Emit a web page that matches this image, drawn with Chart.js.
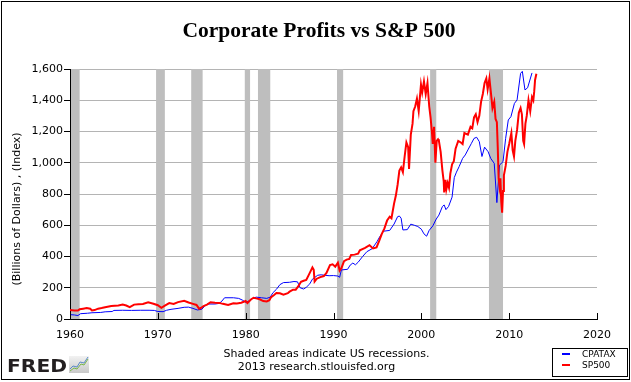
<!DOCTYPE html>
<html><head><meta charset="utf-8">
<script src="https://cdn.jsdelivr.net/npm/chart.js@4/dist/chart.umd.min.js"></script>
<style>html,body{margin:0;padding:0;background:#fff}#wrap{position:relative;width:631px;height:382px}canvas{display:block}</style>
</head><body><div id="wrap"><canvas id="c" width="631" height="382"></canvas></div>
<script>
const chartTitle = 'Corporate Profits vs S&P 500';
const yAxisTitle = '(Billions of Dollars) , (Index)';
const footerLines = ['Shaded areas indicate US recessions.', '2013 research.stlouisfed.org'];
const seriesNames = ['CPATAX', 'SP500'];
const seriesColors = ['#0000ff', '#ff0000'];
const xTickValues = [1960, 1970, 1980, 1990, 2000, 2010, 2020];
const yTickValues = [0, 200, 400, 600, 800, 1000, 1200, 1400, 1600];

const recessionStarts = [1960.0, 1969.8, 1973.8, 1979.9, 1981.4, 1990.4, 2001.0, 2007.7];
const recessionEnds   = [1961.1, 1970.8, 1975.1, 1980.5, 1982.8, 1991.1, 2001.7, 2009.3];

const cpataxDates = [1960.0,1960.5,1960.9,1961.2,1962.0,1962.5,1963.5,1964.0,1964.8,1965.0,1966.0,1967.0,1968.0,1969.0,1969.6,1970.0,1970.6,1971.0,1971.5,1972.3,1973.0,1973.5,1974.0,1974.5,1975.0,1975.3,1975.6,1976.5,1977.0,1977.3,1977.6,1978.6,1979.2,1979.6,1980.0,1980.5,1980.8,1981.2,1981.8,1982.4,1982.8,1983.1,1983.5,1983.9,1984.3,1985.0,1985.5,1985.9,1986.2,1986.6,1986.9,1987.3,1987.6,1988.2,1988.6,1989.0,1989.5,1990.0,1990.5,1990.7,1990.9,1991.6,1991.9,1992.2,1992.5,1992.8,1993.3,1993.8,1994.4,1994.95,1995.3,1995.7,1996.4,1996.9,1997.3,1997.5,1997.7,1997.9,1998.4,1998.8,1999.2,1999.6,2000.0,2000.3,2000.6,2000.9,2001.3,2001.7,2002.0,2002.4,2002.6,2002.8,2003.1,2003.5,2003.75,2004.0,2004.3,2004.7,2005.0,2005.3,2005.7,2006.0,2006.3,2006.6,2006.9,2007.2,2007.6,2007.9,2008.3,2008.6,2008.9,2009.3,2009.6,2009.9,2010.2,2010.6,2010.9,2011.3,2011.5,2011.8,2012.1,2012.6];
const cpataxValues = [28,26,22,34,37,40,42,46,48,55,56,55,56,56,55,48,47,56,62,68,75,76,68,58,62,80,96,96,100,115,136,136,132,122,107,118,132,140,136,132,140,168,190,220,233,235,240,238,200,192,203,225,255,280,283,280,277,278,275,267,314,318,345,358,347,363,399,431,450,495,530,562,567,608,655,659,645,570,572,607,600,592,575,545,530,568,595,640,665,720,730,700,720,780,905,940,975,1028,1050,1082,1124,1156,1163,1135,1040,1100,1071,1028,996,745,985,1007,1156,1274,1295,1380,1402,1572,1585,1466,1480,1575];

const sp500Dates = [1960.0,1960.5,1960.9,1961.1,1961.5,1961.9,1962.3,1962.5,1962.8,1963.2,1963.6,1964.0,1964.7,1965.5,1966.0,1966.4,1966.8,1967.3,1967.8,1968.3,1968.9,1969.5,1970.0,1970.4,1970.8,1971.3,1971.8,1972.3,1973.0,1973.5,1974.0,1974.4,1974.7,1974.9,1975.2,1975.6,1976.0,1976.5,1977.0,1977.4,1978.0,1978.6,1979.0,1979.5,1980.0,1980.2,1980.6,1980.9,1981.2,1981.6,1982.0,1982.4,1982.7,1982.9,1983.2,1983.5,1983.9,1984.3,1984.8,1985.0,1985.4,1985.7,1986.0,1986.3,1986.6,1986.9,1987.3,1987.6,1987.75,1987.85,1988.1,1988.5,1988.9,1989.2,1989.6,1989.9,1990.2,1990.5,1990.7,1990.9,1991.2,1991.5,1991.8,1992.0,1992.4,1992.8,1993.0,1993.6,1994.1,1994.5,1994.9,1995.2,1995.5,1995.8,1996.1,1996.4,1996.6,1996.9,1997.1,1997.3,1997.5,1997.7,1997.9,1998.1,1998.3,1998.5,1998.6,1998.8,1999.0,1999.1,1999.3,1999.5,1999.7,1999.96,2000.1,2000.3,2000.5,2000.7,2000.9,2001.05,2001.2,2001.3,2001.45,2001.6,2001.75,2001.9,2002.0,2002.2,2002.4,2002.55,2002.6,2002.75,2002.85,2003.0,2003.15,2003.3,2003.5,2003.7,2003.9,2004.2,2004.5,2004.7,2004.9,2005.3,2005.6,2005.8,2006.0,2006.2,2006.4,2006.6,2006.8,2007.0,2007.2,2007.4,2007.55,2007.75,2007.9,2008.1,2008.3,2008.45,2008.6,2008.7,2008.8,2008.9,2009.0,2009.1,2009.2,2009.3,2009.4,2009.6,2009.8,2010.0,2010.25,2010.4,2010.55,2010.7,2010.9,2011.1,2011.3,2011.45,2011.6,2011.7,2011.85,2012.0,2012.2,2012.4,2012.6,2012.75,2012.85,2012.95,2013.1];
const sp500Values = [58,55,54,62,66,70,66,55,57,66,70,75,83,87,92,86,76,92,94,96,107,98,88,72,86,102,96,108,117,106,97,90,66,70,83,92,107,104,103,97,90,101,100,104,115,102,125,136,132,126,115,112,120,140,152,166,165,155,165,175,188,188,210,238,245,250,295,330,315,240,258,268,275,295,345,350,335,360,310,325,370,380,385,410,412,418,440,455,472,452,458,500,545,580,630,655,645,740,790,860,950,970,940,1040,1130,1100,960,1180,1250,1330,1360,1410,1330,1500,1450,1520,1440,1510,1360,1290,1200,1120,1230,1000,1140,1150,1140,1070,950,880,810,890,830,870,840,930,990,1010,1090,1140,1130,1120,1190,1180,1230,1220,1290,1310,1260,1300,1390,1440,1510,1540,1470,1540,1460,1350,1390,1280,1260,1100,900,850,900,750,680,820,920,980,1070,1120,1190,1080,1040,1140,1210,1320,1350,1310,1140,1120,1250,1300,1400,1330,1420,1400,1455,1530,1570];

const toPoints = (xs, ys) => xs.map((x, i) => ({ x: x, y: ys[i] }));
const SANS = '"DejaVu Sans", Verdana, sans-serif';

const recessionPlugin = {
  id: 'recessions',
  beforeDatasetsDraw(chart) {
    const { ctx, chartArea: a, scales: { x } } = chart;
    ctx.save();
    ctx.fillStyle = '#bebebe';
    for (let i = 0; i < recessionStarts.length; i++) {
      const x1 = Math.max(x.getPixelForValue(recessionStarts[i]), a.left + 1);
      const x2 = x.getPixelForValue(recessionEnds[i]);
      ctx.fillRect(x1, a.top, x2 - x1, a.bottom - a.top);
    }
    ctx.restore();
  }
};

const decorPlugin = {
  id: 'decor',
  afterDraw(chart) {
    const { ctx, chartArea: a, scales: { x } } = chart;
    ctx.save();
    ctx.strokeStyle = '#000'; ctx.lineWidth = 1;
    xTickValues.forEach(v => {
      const px = Math.round(x.getPixelForValue(v)) + 0.5;
      ctx.beginPath(); ctx.moveTo(px, a.bottom); ctx.lineTo(px, a.bottom - 6); ctx.stroke();
    });
    ctx.fillStyle = '#000';
    ctx.font = 'bold 21.5px "Liberation Serif", "Times New Roman", serif';
    ctx.textAlign = 'center'; ctx.textBaseline = 'alphabetic';
    ctx.fillText(chartTitle, 319, 37);
    ctx.save();
    ctx.translate(17.5, 209); ctx.rotate(-Math.PI / 2);
    ctx.font = '11px ' + SANS; ctx.textBaseline = 'middle';
    ctx.fillText(yAxisTitle, 0, 0);
    ctx.restore();
    ctx.font = '11px ' + SANS; ctx.textBaseline = 'middle'; ctx.textAlign = 'center';
    ctx.fillText(footerLines[0], 326.5, 354);
    ctx.fillText(footerLines[1], 316.5, 367);
    ctx.strokeRect(552.5, 348.5, 75, 28);
    ctx.fillStyle = seriesColors[0]; ctx.fillRect(562, 353, 8, 2);
    ctx.fillStyle = seriesColors[1]; ctx.fillRect(562, 364, 8, 2);
    ctx.fillStyle = '#000'; ctx.font = '9px ' + SANS; ctx.textAlign = 'left';
    ctx.fillText(seriesNames[0], 582, 354.5);
    ctx.fillText(seriesNames[1], 582, 365.5);
    ctx.save();
    ctx.font = 'bold 18px ' + SANS; ctx.textBaseline = 'alphabetic';
    const w = ctx.measureText('FRED').width;
    ctx.translate(7, 372); ctx.scale(60 / w, 1);
    ctx.fillStyle = '#231f20';
    ctx.fillText('FRED', 0, 0);
    ctx.restore();
    const g = ctx.createLinearGradient(69, 356, 69, 373);
    g.addColorStop(0, '#f2f2f2'); g.addColorStop(1, '#c8c8c8');
    ctx.fillStyle = g; ctx.fillRect(69, 356, 20, 17);
    ctx.lineWidth = 1;
    ctx.strokeStyle = '#7ab648';
    ctx.beginPath(); ctx.moveTo(70, 371); ctx.lineTo(74, 368); ctx.lineTo(77, 369); ctx.lineTo(81, 364); ctx.lineTo(84, 365); ctx.lineTo(88, 359); ctx.stroke();
    ctx.strokeStyle = '#5b8ac6';
    ctx.beginPath(); ctx.moveTo(70, 369); ctx.lineTo(73, 366); ctx.lineTo(77, 367); ctx.lineTo(80, 362); ctx.lineTo(84, 363); ctx.lineTo(88, 357); ctx.stroke();
    ctx.strokeStyle = '#000'; ctx.lineWidth = 1;
    ctx.strokeRect(1.5, 1.5, 628, 378);
    ctx.restore();
  }
};

new Chart(document.getElementById('c'), {
  type: 'line',
  data: {
    datasets: [
      { label: seriesNames[1], data: toPoints(sp500Dates, sp500Values), borderColor: seriesColors[1], backgroundColor: seriesColors[1], borderWidth: 2, pointRadius: 0, tension: 0, fill: false, order: 0 },
      { label: seriesNames[0], data: toPoints(cpataxDates, cpataxValues), borderColor: seriesColors[0], backgroundColor: seriesColors[0], borderWidth: 1, pointRadius: 0, tension: 0, fill: false, order: 1 }
    ]
  },
  options: {
    responsive: false, animation: false, devicePixelRatio: 1,
    layout: { padding: { left: 0, top: 69, right: 34, bottom: 0 } },
    plugins: { legend: { display: false }, tooltip: { enabled: false }, title: { display: false } },
    scales: {
      x: {
        type: 'linear', min: 1960, max: 2020,
        afterBuildTicks: s => { s.ticks = xTickValues.map(v => ({ value: v })); },
        afterFit: s => { s.height = 63; },
        ticks: { color: '#000', font: { family: SANS, size: 11 }, padding: 10, maxRotation: 0, autoSkip: false, callback: v => String(v) },
        grid: { display: false, drawTicks: false },
        border: { display: true, color: '#000', width: 1 }
      },
      y: {
        type: 'linear', min: 0, max: 1600,
        afterBuildTicks: s => { s.ticks = yTickValues.map(v => ({ value: v })); },
        afterFit: s => { s.width = 70; },
        ticks: { color: '#000', font: { family: SANS, size: 11 }, padding: 1, callback: v => v.toLocaleString('en-US') },
        grid: { color: '#b4b4b4', tickColor: '#000', tickLength: 6, lineWidth: 1 },
        border: { display: true, color: '#000', width: 1 }
      }
    }
  },
  plugins: [recessionPlugin, decorPlugin]
});
</script></body></html>
